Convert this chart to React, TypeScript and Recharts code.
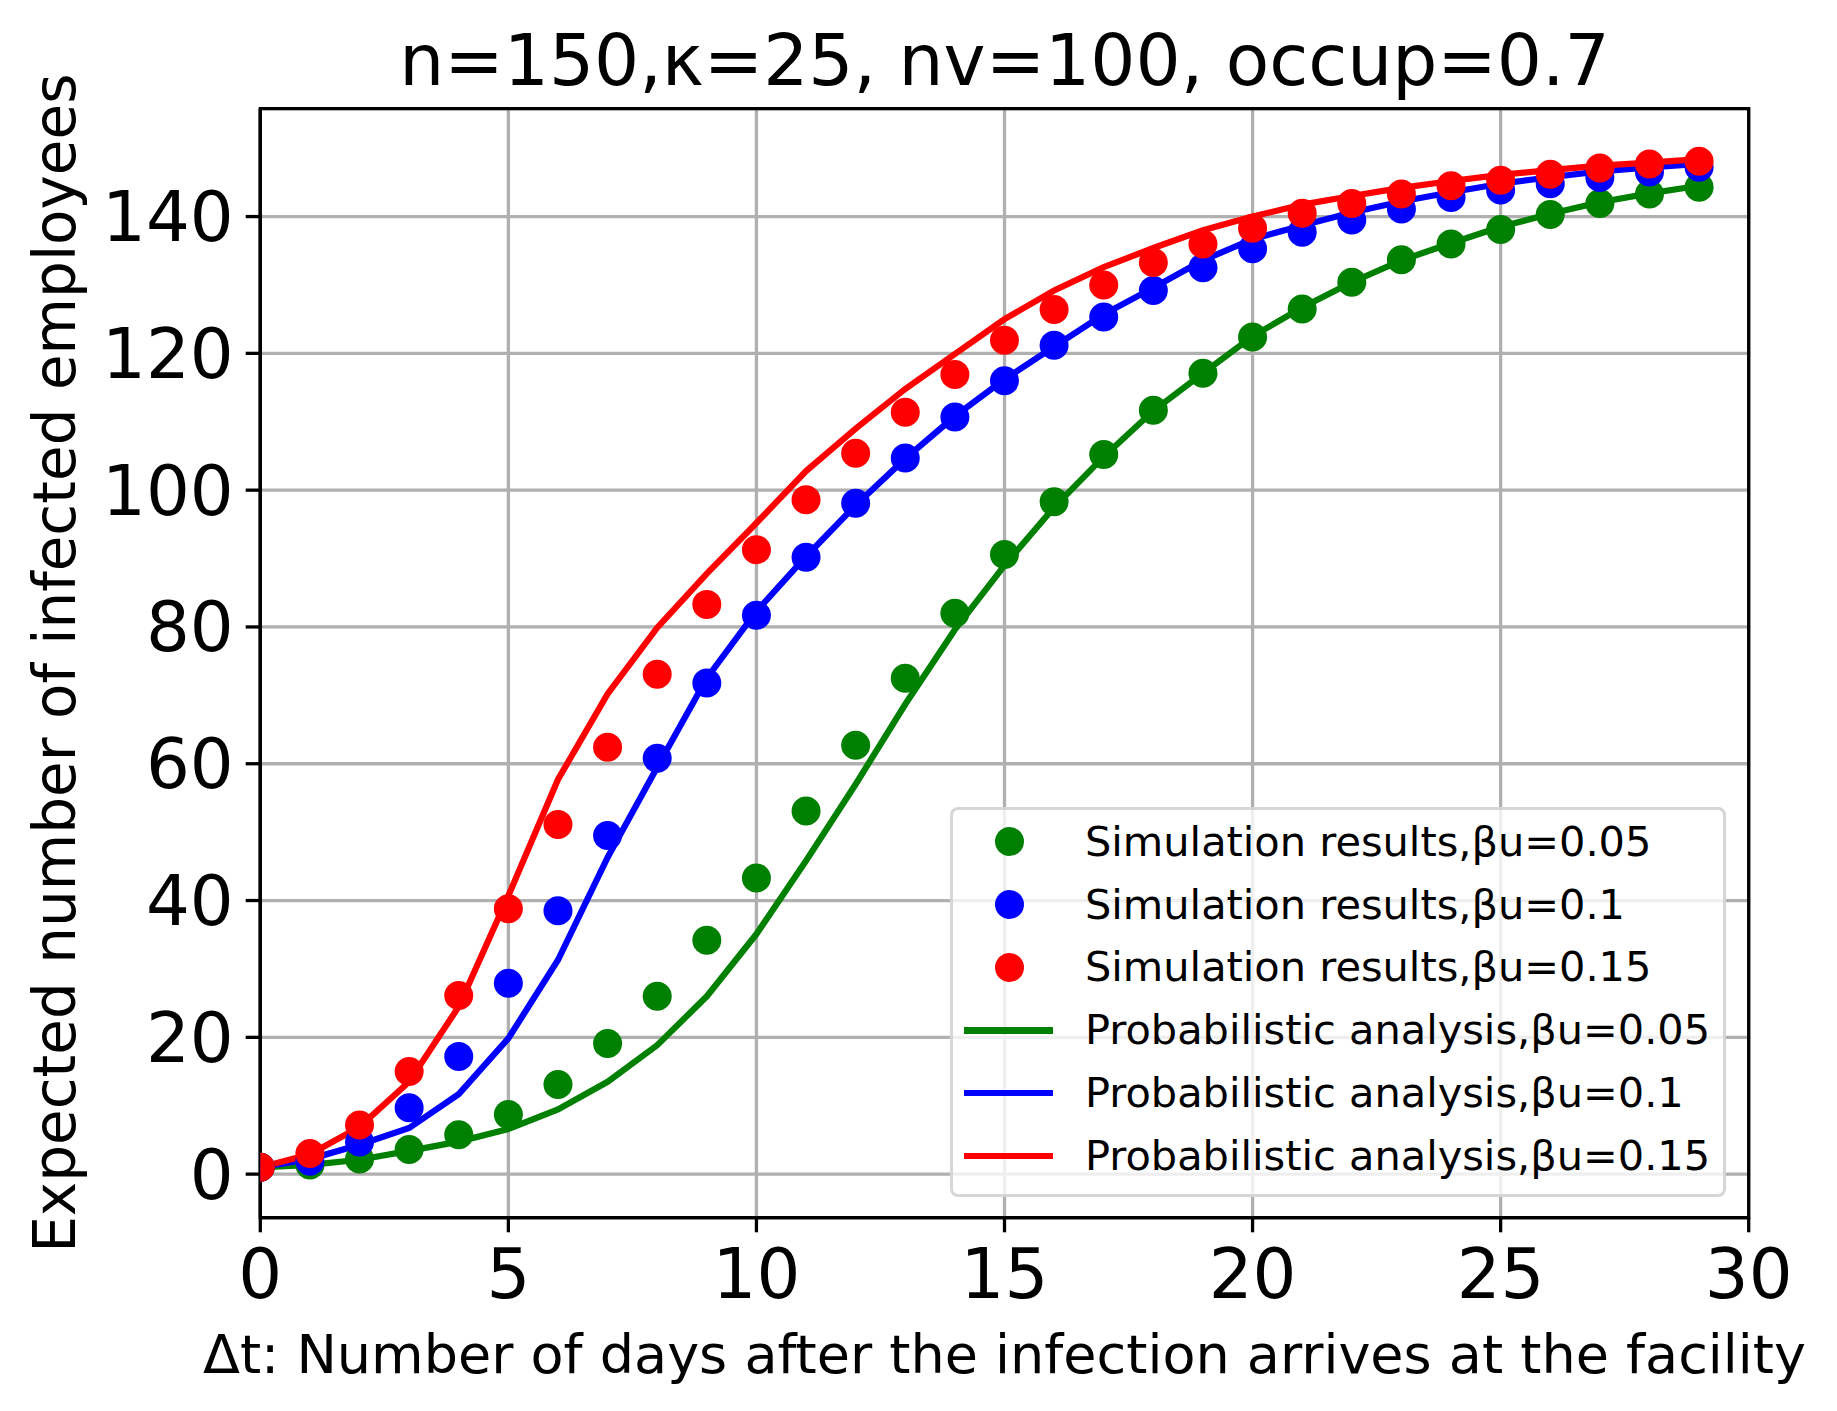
import React from "react";
import {
  ComposedChart,
  Line,
  XAxis,
  YAxis,
  CartesianGrid,
  ReferenceArea,
  Legend,
} from "recharts";

// days after the infection arrives (0..29)
const days = [
  0, 1, 2, 3, 4, 5, 6, 7, 8, 9, 10, 11, 12, 13, 14, 15, 16, 17, 18, 19, 20,
  21, 22, 23, 24, 25, 26, 27, 28, 29,
];

// simulation results (dots)
const simBeta005 = [
  1.0, 1.35, 2.2, 3.6, 5.75, 8.7, 13.1, 19.1, 26.0, 34.2, 43.3, 53.1, 62.7,
  72.5, 82.0, 90.6, 98.3, 105.2, 111.7, 117.1, 122.4, 126.5, 130.4, 133.7,
  136.0, 138.1, 140.3, 141.9, 143.3, 144.3,
];
const simBeta010 = [
  1.0, 1.9, 4.7, 9.7, 17.2, 27.9, 38.5, 49.5, 60.8, 71.8, 81.7, 90.2, 98.1,
  104.7, 110.7, 116.0, 121.2, 125.3, 129.2, 132.5, 135.3, 137.7, 139.5, 141.1,
  142.8, 143.9, 144.8, 145.7, 146.5, 147.2,
];
const simBeta015 = [
  1.0, 3.0, 7.2, 15.0, 26.1, 38.8, 51.1, 62.4, 73.1, 83.3, 91.3, 98.6, 105.4,
  111.4, 116.9, 121.9, 126.4, 130.0, 133.3, 136.0, 138.3, 140.5, 141.9, 143.3,
  144.5, 145.3, 146.2, 147.1, 147.7, 148.1,
];

// probabilistic analysis (lines)
const probBeta005 = [
  1.0, 1.35, 2.1, 3.4, 4.75, 6.6, 9.45, 13.5, 18.85, 26.0, 35.1, 45.8, 57.0,
  68.7, 79.6, 89.0, 97.5, 104.9, 111.6, 117.1, 122.5, 126.7, 130.4, 133.6,
  136.1, 138.5, 140.4, 142.1, 143.4, 144.5,
];
const probBeta010 = [
  1.0, 2.2, 4.3, 6.75, 11.7, 19.85, 31.3, 46.3, 59.5, 72.5, 82.3, 90.3, 97.8,
  104.6, 110.8, 116.2, 121.0, 125.7, 129.6, 133.6, 136.7, 138.7, 140.6, 142.2,
  143.55, 144.8, 145.75, 146.6, 147.2, 147.7,
];
const probBeta015 = [
  1.0, 2.9, 6.9, 13.5, 24.5, 40.7, 57.7, 70.2, 79.9, 87.8, 95.2, 102.8, 109.0,
  114.8, 119.9, 125.0, 129.2, 132.6, 135.4, 138.0, 140.0, 141.75, 143.0,
  144.2, 145.2, 146.1, 146.8, 147.45, 147.9, 148.4,
];

const xTicks = [0, 5, 10, 15, 20, 25, 30];
const yTicks = [0, 20, 40, 60, 80, 100, 120, 140];
const yDomain: [number, number] = [-6.37, 155.77];

const legendItems = [
  { label: "Simulation results,\u03b2u=0.05", color: "#008000", kind: "dot" },
  { label: "Simulation results,\u03b2u=0.1", color: "#0000ff", kind: "dot" },
  { label: "Simulation results,\u03b2u=0.15", color: "#ff0000", kind: "dot" },
  { label: "Probabilistic analysis,\u03b2u=0.05", color: "#008000", kind: "line" },
  { label: "Probabilistic analysis,\u03b2u=0.1", color: "#0000ff", kind: "line" },
  { label: "Probabilistic analysis,\u03b2u=0.15", color: "#ff0000", kind: "line" },
];

const FONT = "'DejaVu Sans', sans-serif";
const SPINE = 3.3;

const rows = days.map((d, i) => ({
  day: d,
  s1: simBeta005[i],
  s2: simBeta010[i],
  s3: simBeta015[i],
  p1: probBeta005[i],
  p2: probBeta010[i],
  p3: probBeta015[i],
}));

function LegendBox(): JSX.Element {
  return (
    <div
      style={{
        position: "relative",
        width: 776,
        height: 390,
        boxSizing: "border-box",
        border: "3.3px solid rgba(204,204,204,0.8)",
        borderRadius: 8,
        background: "rgba(255,255,255,0.8)",
        fontFamily: FONT,
        fontSize: 41.5,
        color: "#000",
      }}
    >
      {legendItems.map((it, i) => {
        const cy = 32 + i * 62.9;
        return (
          <div key={it.label}>
            {it.kind === "dot" ? (
              <div
                style={{
                  position: "absolute",
                  left: 42,
                  top: cy - 14.5,
                  width: 29,
                  height: 29,
                  borderRadius: "50%",
                  background: it.color,
                }}
              />
            ) : (
              <div
                style={{
                  position: "absolute",
                  left: 11,
                  top: cy - 3.1,
                  width: 89,
                  height: 6.25,
                  background: it.color,
                }}
              />
            )}
            <div
              style={{
                position: "absolute",
                left: 132,
                top: cy - 30,
                height: 60,
                lineHeight: "60px",
                whiteSpace: "nowrap",
              }}
            >
              {it.label}
            </div>
          </div>
        );
      })}
    </div>
  );
}

function XLabel(props: any): JSX.Element {
  const vb = props.viewBox || {};
  return (
    <text
      x={vb.x + vb.width / 2}
      y={vb.y + 155}
      textAnchor="middle"
      fontFamily={FONT}
      fontSize={54}
      fill="#000"
    >
      {"\u0394t: Number of days after the infection arrives at the facility"}
    </text>
  );
}

function YLabel(props: any): JSX.Element {
  const vb = props.viewBox || {};
  const cy = vb.y + vb.height / 2;
  return (
    <text
      x={75}
      y={cy}
      transform={`rotate(-90, 75, ${cy})`}
      textAnchor="middle"
      fontFamily={FONT}
      fontSize={58}
      fill="#000"
    >
      Expected number of infected employees
    </text>
  );
}

export default function App(): JSX.Element {
  return (
    <div style={{ position: "absolute", left: 0, top: 0, background: "#fff" }}>
      <ComposedChart
        width={1837}
        height={1411}
        data={rows}
        margin={{ top: 108.7, right: 88.3, bottom: 0, left: 0 }}
      >
        <text
          x={1004.5}
          y={85}
          textAnchor="middle"
          fontFamily={FONT}
          fontSize={71}
          fill="#000"
        >
          {"n=150,\u03ba=25, nv=100, occup=0.7"}
        </text>
        <CartesianGrid stroke="#b0b0b0" strokeWidth={SPINE} />
        <XAxis
          dataKey="day"
          type="number"
          domain={[0, 30]}
          ticks={xTicks}
          allowDataOverflow
          height={193.3}
          tickSize={14.6}
          tickMargin={17}
          tick={{ fontSize: 69, fontFamily: FONT, fill: "#000" }}
          tickLine={{ stroke: "#000", strokeWidth: SPINE }}
          axisLine={{ stroke: "#000", strokeWidth: SPINE }}
          label={<XLabel />}
        />
        <YAxis
          type="number"
          domain={yDomain}
          ticks={yTicks}
          allowDataOverflow
          width={260.3}
          tickSize={14.6}
          tickMargin={12}
          tick={{ fontSize: 69, fontFamily: FONT, fill: "#000" }}
          tickLine={{ stroke: "#000", strokeWidth: SPINE }}
          axisLine={{ stroke: "#000", strokeWidth: SPINE }}
          label={<YLabel />}
        />
        <Line
          dataKey="s1"
          stroke="none"
          dot={{ r: 14.5, fill: "#008000", stroke: "none" }}
          activeDot={false}
          isAnimationActive={false}
        />
        <Line
          dataKey="s2"
          stroke="none"
          dot={{ r: 14.5, fill: "#0000ff", stroke: "none" }}
          activeDot={false}
          isAnimationActive={false}
        />
        <Line
          dataKey="s3"
          stroke="none"
          dot={{ r: 14.5, fill: "#ff0000", stroke: "none" }}
          activeDot={false}
          isAnimationActive={false}
        />
        <Line
          dataKey="p1"
          type="linear"
          stroke="#008000"
          strokeWidth={6.25}
          dot={false}
          activeDot={false}
          isAnimationActive={false}
        />
        <Line
          dataKey="p2"
          type="linear"
          stroke="#0000ff"
          strokeWidth={6.25}
          dot={false}
          activeDot={false}
          isAnimationActive={false}
        />
        <Line
          dataKey="p3"
          type="linear"
          stroke="#ff0000"
          strokeWidth={6.25}
          dot={false}
          activeDot={false}
          isAnimationActive={false}
        />
        <ReferenceArea
          x1={0}
          x2={30}
          y1={yDomain[0]}
          y2={yDomain[1]}
          fill="none"
          stroke="#000"
          strokeWidth={SPINE}
          ifOverflow="visible"
        />
        <Legend
          layout="vertical"
          align="center"
          verticalAlign="middle"
          content={() => <LegendBox />}
          wrapperStyle={{ left: 950, top: 806.7, width: 776, height: 390 }}
        />
      </ComposedChart>
    </div>
  );
}
